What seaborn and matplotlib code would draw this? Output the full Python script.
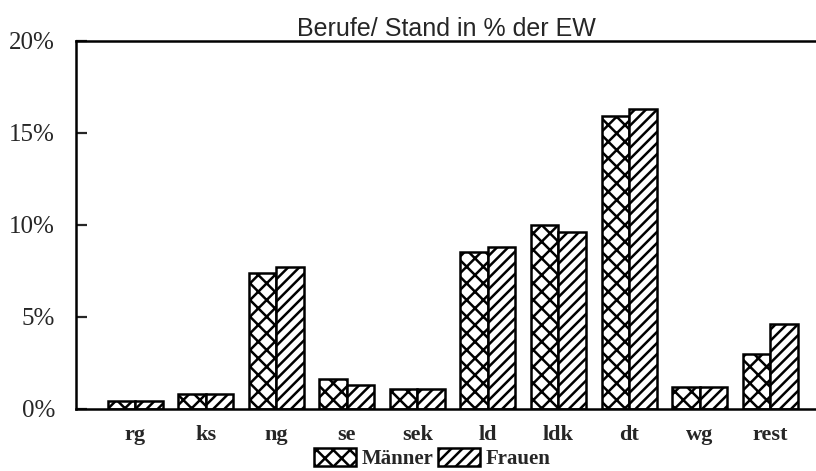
import matplotlib
matplotlib.use("Agg")
import matplotlib.pyplot as plt
import matplotlib.patches as mpatches
import matplotlib.ticker as mtick
import pandas as pd
import seaborn as sns

# values (percent of inhabitants)
kategorien = ["rg", "ks", "ng", "se", "sek", "ld", "ldk", "dt", "wg", "rest"]
maenner = [0.4, 0.8, 7.4, 1.6, 1.1, 8.5, 10.0, 15.9, 1.2, 3.0]
frauen = [0.4, 0.8, 7.7, 1.3, 1.1, 8.8, 9.6, 16.3, 1.2, 4.6]
serien = ["Männer", "Frauen"]
hatches = ["xx", "///"]
y_ticks = [0, 5, 10, 15, 20]

df = pd.DataFrame({
    "Kategorie": kategorien * 2,
    "Geschlecht": [serien[0]] * len(kategorien) + [serien[1]] * len(kategorien),
    "Wert": maenner + frauen,
})

sns.set_style("ticks")
plt.rcParams["hatch.linewidth"] = 1.8
plt.rcParams["hatch.color"] = "black"

fig = plt.figure(figsize=(8.16, 4.71), dpi=100)
ax = fig.add_axes([0.093, 0.132, 0.907, 0.781])

sns.barplot(
    data=df, x="Kategorie", y="Wert", hue="Geschlecht",
    palette=["white", "white"], edgecolor="black", linewidth=1.8,
    width=0.78, gap=0, ax=ax, legend=False,
)
for cont, h in zip(ax.containers, hatches):
    for bar in cont:
        bar.set_hatch(h)

ax.set_xlim(-0.84, 9.65)
ax.set_ylim(0, 20)
ax.set_yticks(y_ticks)
ax.yaxis.set_major_formatter(mtick.FuncFormatter(lambda v, p: f"{v:.0f}%"))
ax.set_xlabel("")
ax.set_ylabel("")

for s in ["left", "bottom", "top"]:
    ax.spines[s].set_linewidth(1.8)
    ax.spines[s].set_color("black")
ax.spines["right"].set_visible(False)

ax.tick_params(axis="y", direction="in", length=8, width=1.6, pad=15)
ax.tick_params(axis="x", length=0, pad=12)
for lab in ax.get_yticklabels():
    lab.set_fontfamily("Liberation Serif")
    lab.set_fontsize(18)
for lab in ax.get_xticklabels():
    lab.set_fontfamily("Liberation Serif")
    lab.set_fontsize(16)
    lab.set_fontweight("bold")

ax.set_title("Berufe/ Stand in % der EW", fontfamily="Liberation Sans",
             fontsize=18, pad=3)

handles = [
    mpatches.Patch(facecolor="white", edgecolor="black", hatch=h, linewidth=1.8, label=s)
    for s, h in zip(serien, hatches)
]
fig.legend(handles=handles, loc="center", bbox_to_anchor=(0.53, 0.026), ncol=2,
           frameon=False, handlelength=2.0, handleheight=0.9, handletextpad=0.3,
           columnspacing=0.2, borderpad=0.1,
           prop={"family": "Liberation Serif", "weight": "bold", "size": 15})

fig.savefig("out.png", dpi=100)
